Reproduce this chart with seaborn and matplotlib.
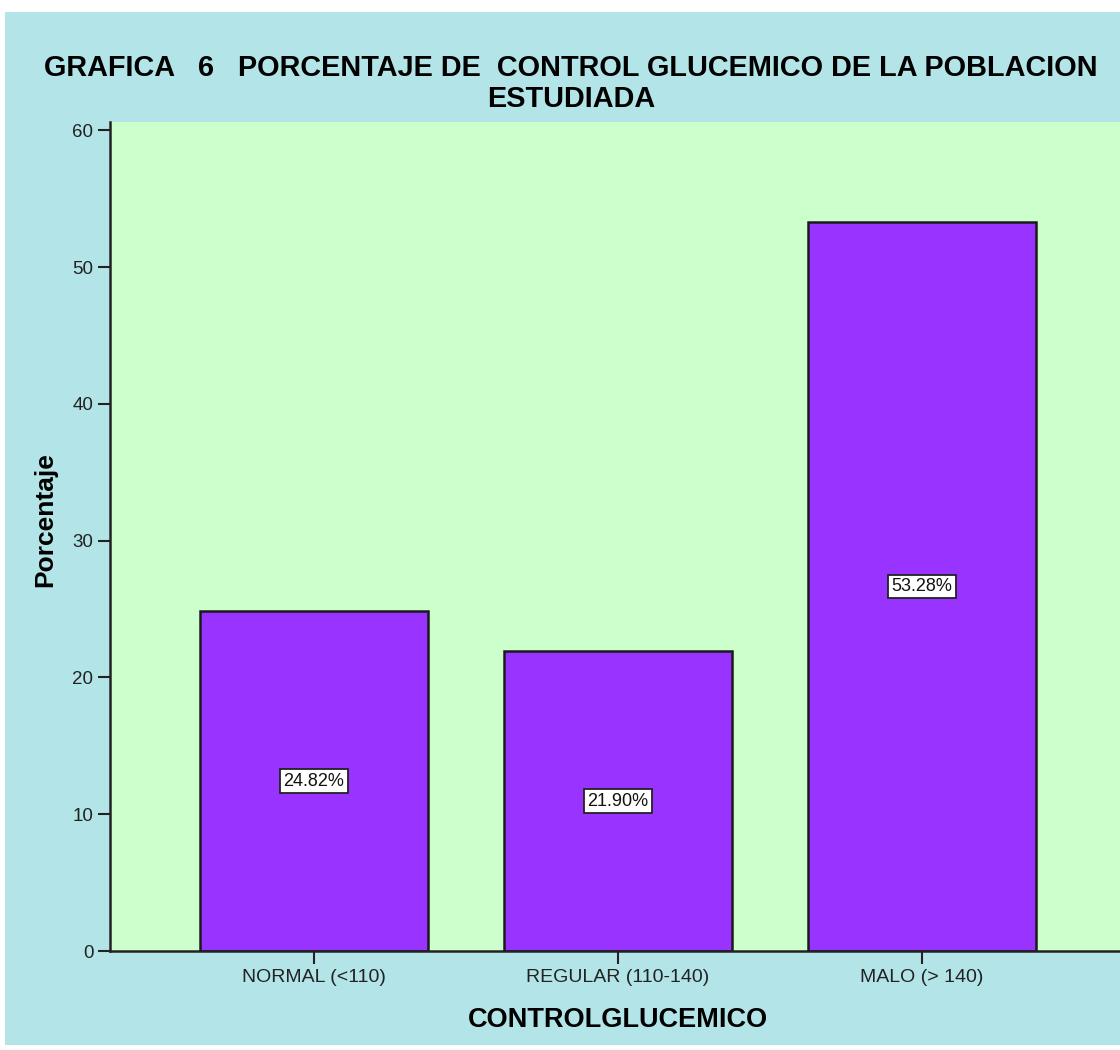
import matplotlib
matplotlib.use("Agg")
import matplotlib.pyplot as plt
from matplotlib.patches import Rectangle
import seaborn as sns
import pandas as pd

categories = ["NORMAL (<110)", "REGULAR (110-140)", "MALO (> 140)"]
percentages = [24.82, 21.90, 53.28]
value_labels = ["24.82%", "21.90%", "53.28%"]
y_ticks = [0, 10, 20, 30, 40, 50, 60]

sns.set_theme(style="ticks")
plt.rcParams["font.family"] = ["Liberation Sans", "DejaVu Sans"]

df = pd.DataFrame({"CONTROLGLUCEMICO": categories, "Porcentaje": percentages})

fig = plt.figure(figsize=(11.2, 10.5), dpi=100, facecolor="white")
fig.patches.append(Rectangle((5 / 1120, 1 - 1045 / 1050), 1 - 5 / 1120, (1045 - 12) / 1050,
                             transform=fig.transFigure, facecolor="#B3E5E8",
                             edgecolor="none", zorder=-10))

ax = fig.add_axes([110 / 1120, 1 - 951 / 1050, (1126 - 110) / 1120, (951 - 122) / 1050])
ax.set_zorder(1)
ax.set_facecolor("#CCFFCC")

sns.barplot(data=df, x="CONTROLGLUCEMICO", y="Porcentaje", color="#9933FF",
            width=0.75, edgecolor="#1a1a1a", linewidth=1.8, saturation=1,
            ax=ax, zorder=2)

for i, (v, lab) in enumerate(zip(percentages, value_labels)):
    ax.text(i, v / 2, lab, ha="center", va="center", fontsize=13, color="#111111",
            zorder=5,
            bbox=dict(boxstyle="square,pad=0.18", facecolor="white",
                      edgecolor="#222222", linewidth=1.3))

ax.set_xlim(-0.671, 2.671)
ax.set_ylim(0, 60.6)
ax.set_yticks(y_ticks)
ax.set_yticklabels([str(t) for t in y_ticks])
ax.tick_params(axis="both", which="major", direction="out", length=9, width=1.5,
               color="#222222", labelsize=13.5, labelcolor="#222222", pad=3)
ax.tick_params(axis="x", labelsize=14, pad=4)

for s in ["top", "right"]:
    ax.spines[s].set_visible(False)
for s in ["left", "bottom"]:
    ax.spines[s].set_linewidth(1.8)
    ax.spines[s].set_color("#222222")
ax.grid(False)

ax.set_xlabel("")
ax.set_ylabel("")

fig.text(571 / 1120, 1 - 68 / 1050, "GRAFICA   6   PORCENTAJE DE  CONTROL GLUCEMICO DE LA POBLACION",
         ha="center", va="center", fontsize=20.8, fontweight="bold", color="black", zorder=5)
fig.text(571 / 1120, 1 - 99 / 1050, "ESTUDIADA",
         ha="center", va="center", fontsize=20.8, fontweight="bold", color="black", zorder=5)
fig.text(45 / 1120, 1 - 520 / 1050, "Porcentaje", rotation=90, ha="center", va="center",
         fontsize=19, fontweight="bold", color="black", zorder=5)
fig.text(618 / 1120, 1 - 1020 / 1050, "CONTROLGLUCEMICO", ha="center", va="center",
         fontsize=19.5, fontweight="bold", color="black", zorder=5)

fig.savefig("out.png", dpi=100, facecolor="white")
